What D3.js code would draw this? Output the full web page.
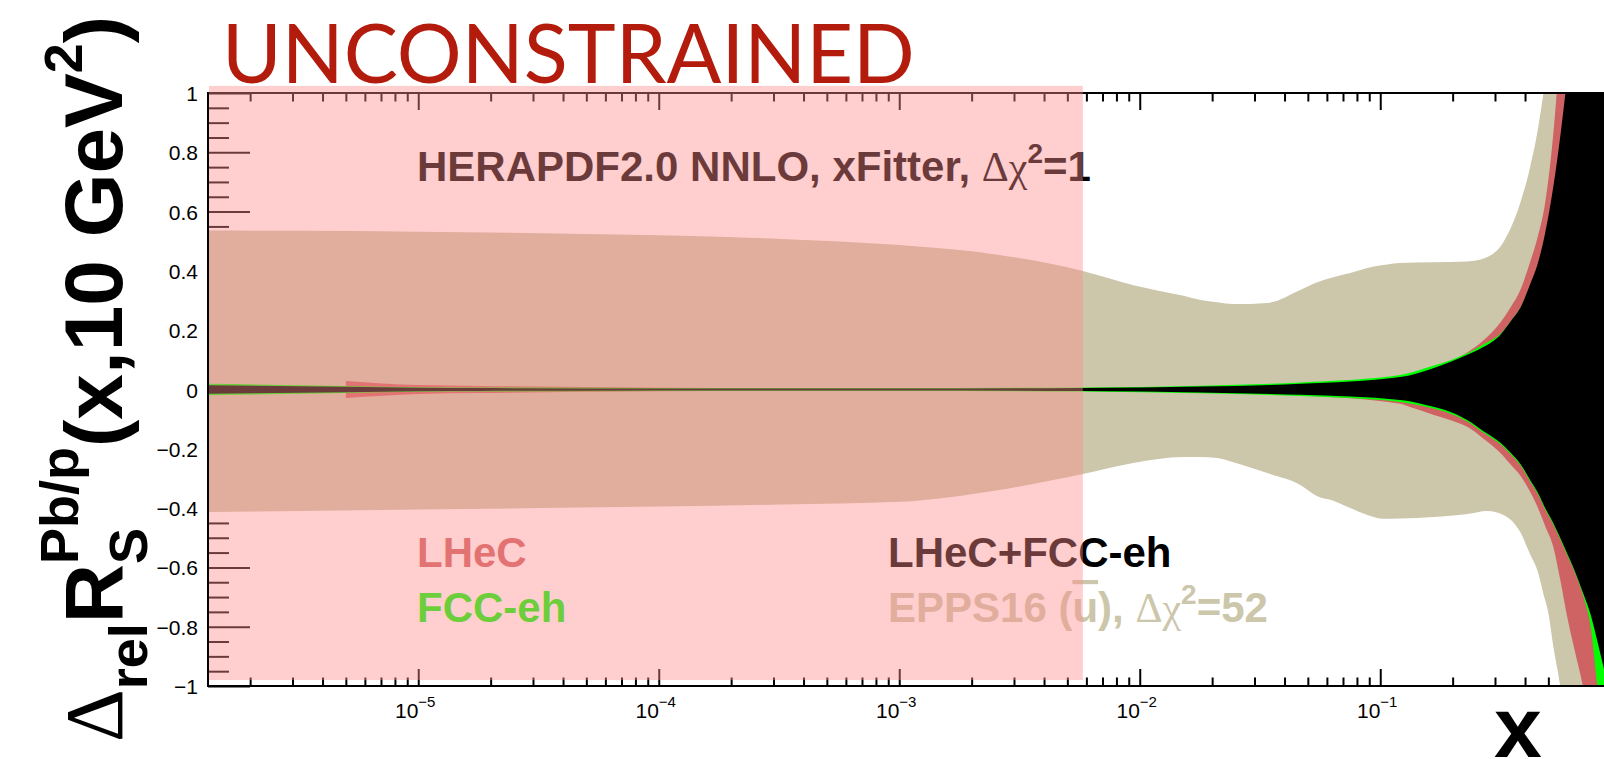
<!DOCTYPE html>
<html><head><meta charset="utf-8">
<script src="https://cdn.jsdelivr.net/npm/d3@7"></script>
<style>html,body{margin:0;padding:0;background:#fff;} svg{display:block}</style>
</head><body>
<svg id="c" width="1604" height="759"></svg>
<script>
// ---------------- DATA ----------------
// EPPS16 (ubar) band
const epX  = [1.336e-6, 3.2e-6, 1e-5, 3.2e-5, 1e-4, 3.2e-4, 1e-3, 2.6e-3, 5.8e-3, 9.4e-3, 0.0152, 0.0179, 0.021, 0.0245, 0.0339, 0.0465, 0.0547, 0.0638, 0.075, 0.0883, 0.103, 0.121, 0.166, 0.23, 0.279, 0.325, 0.382, 0.42, 0.454, 0.477, 0.5, 0.524, 0.56, 0.6, 0.7, 1.0];
const epUp = [0.536, 0.535, 0.532, 0.527, 0.520, 0.508, 0.487, 0.454, 0.400, 0.352, 0.316, 0.302, 0.294, 0.288, 0.292, 0.336, 0.362, 0.379, 0.393, 0.410, 0.420, 0.427, 0.429, 0.432, 0.447, 0.497, 0.629, 0.75, 0.885, 1.0, 1.12, 1.25, 1.45, 1.7, 2.2, 3.0];
const epLo = [-0.413, -0.410, -0.405, -0.400, -0.395, -0.388, -0.379, -0.339, -0.285, -0.248, -0.228, -0.228, -0.231, -0.245, -0.282, -0.322, -0.36, -0.375, -0.40, -0.423, -0.436, -0.435, -0.43, -0.42, -0.41, -0.423, -0.481, -0.556, -0.62, -0.69, -0.754, -0.865, -1.0, -1.2, -1.6, -2.5];

// common grid for the xFitter bands
const bandX = [1.336e-6, 5e-6, 1e-5, 1.8e-5, 1e-4, 1e-3, 5.8e-3, 0.0179, 0.0465, 0.121, 0.166, 0.195, 0.23, 0.268, 0.316, 0.35, 0.382, 0.42, 0.45, 0.485, 0.524, 0.56, 0.6, 0.635, 0.7, 0.75, 0.8, 0.85, 0.9, 1.0];
// LHeC+FCC-eh
const combUp = [0.014, 0.009, 0.006, 0.005, 0.003, 0.003, 0.005, 0.010, 0.019, 0.042, 0.072, 0.093, 0.117, 0.143, 0.185, 0.232, 0.275, 0.355, 0.42, 0.528, 0.683, 0.852, 1.06, 1.25, 1.6, 1.9, 2.2, 2.5, 2.8, 3.3];
const combLo = [-0.014, -0.009, -0.006, -0.005, -0.003, -0.003, -0.005, -0.010, -0.018, -0.035, -0.058, -0.075, -0.103, -0.14, -0.18, -0.215, -0.25, -0.305, -0.345, -0.40, -0.45, -0.50, -0.555, -0.60, -0.69, -0.76, -0.85, -0.94, -1.03, -1.2];
// FCC-eh
const fccUp = [0.019, 0.012, 0.008, 0.007, 0.005, 0.005, 0.007, 0.013, 0.024, 0.049, 0.080, 0.098, 0.122, 0.152, 0.188, 0.232, 0.275, 0.35, 0.41, 0.51, 0.66, 0.82, 1.0, 1.2, 1.5, 1.8, 2.1, 2.4, 2.7, 3.2];
const fccLo = [-0.019, -0.012, -0.008, -0.007, -0.005, -0.005, -0.007, -0.013, -0.022, -0.042, -0.064, -0.081, -0.108, -0.145, -0.185, -0.22, -0.255, -0.31, -0.35, -0.405, -0.455, -0.505, -0.56, -0.605, -0.70, -0.80, -1.0, -1.15, -1.3, -1.5];
// LHeC (starts at x = 5e-6)
const lhecX  = [5e-6, 1e-5, 1.8e-5, 1e-4, 1e-3, 5.8e-3, 0.0179, 0.0465, 0.121, 0.133, 0.166, 0.195, 0.23, 0.268, 0.316, 0.35, 0.382, 0.42, 0.45, 0.485, 0.524, 0.56, 0.6, 0.635, 0.7, 0.75, 0.8, 1.0];
const lhecUp = [0.029, 0.015, 0.012, 0.006, 0.004, 0.005, 0.010, 0.020, 0.045, 0.05, 0.075, 0.095, 0.125, 0.165, 0.226, 0.28, 0.335, 0.43, 0.51, 0.63, 0.86, 1.15, 1.45, 1.7, 2.1, 2.5, 2.8, 3.8];
const lhecLo = [-0.029, -0.015, -0.012, -0.006, -0.004, -0.005, -0.010, -0.020, -0.048, -0.059, -0.085, -0.103, -0.126, -0.165, -0.214, -0.255, -0.29, -0.345, -0.395, -0.46, -0.53, -0.64, -0.77, -0.86, -1.01, -1.15, -1.25, -1.7];

const xDomain = [1.336e-6, 1];
const yDomain = [-1, 1];
const unconstrainedX = [1.336e-6, 5.8e-3];
const unconstrainedY = [-0.98, 1.024];

const yMajorTicks = [1, 0.8, 0.6, 0.4, 0.2, 0, -0.2, -0.4, -0.6, -0.8, -1];
const yTickLabels = ["1", "0.8", "0.6", "0.4", "0.2", "0", "\u22120.2", "\u22120.4", "\u22120.6", "\u22120.8", "\u22121"];
const yMinorTicks = d3.range(-20, 21).map(i => i * 0.05).filter(v => Math.abs(Math.round(v * 5) - v * 5) > 1e-6);
const xTickExponents = [-5, -4, -3, -2, -1];
const xTickExpLabels = ["\u22125", "\u22124", "\u22123", "\u22122", "\u22121"];
const xMajorTicks = [1e-5, 1e-4, 1e-3, 1e-2, 1e-1, 1];
const xMinorTicks = [];
[-6, -5, -4, -3, -2, -1].forEach(e => { for (let k = 2; k <= 9; k++) { const v = k * Math.pow(10, e); if (v > xDomain[0]) xMinorTicks.push(v); } });

const legendEntries = [
  {label: "LHeC", color: "#cf6262"},
  {label: "FCC-eh", color: "#00ff00"},
  {label: "LHeC+FCC-eh", color: "#000000"},
  {label: "EPPS16", color: "#ccc6aa"}
];

// ---------------- DRAW ----------------
const svg = d3.select("#c");
const SANS = "'Liberation Sans', Arial, Helvetica, sans-serif";
const SERIF = "'Liberation Serif', 'Times New Roman', serif";

const decade = 240.5;
const x = d3.scaleLog().domain(xDomain).range([208, 208 + decade * Math.log10(xDomain[1] / xDomain[0])]);
const y = d3.scaleLinear().domain(yDomain).range([686, 93]);
const [px0, px1] = x.range();

svg.append("rect").attr("width", 1604).attr("height", 759).attr("fill", "#fff");

// ticks
function tickAxis(axis, tr, sw) {
  const g = svg.append("g").attr("transform", tr).call(axis);
  g.select(".domain").remove();
  g.selectAll("line").attr("stroke", "#000").attr("stroke-width", sw);
  g.selectAll("text").remove();
  return g;
}
tickAxis(d3.axisRight(y).tickValues(yMajorTicks).tickSize(42).tickFormat(""), `translate(${px0},0)`, 2);
tickAxis(d3.axisRight(y).tickValues(yMinorTicks).tickSize(21).tickFormat(""), `translate(${px0},0)`, 2);
tickAxis(d3.axisBottom(x).tickValues(xMajorTicks).tickSize(17).tickFormat(""), `translate(0,${y(1)})`, 2);
tickAxis(d3.axisBottom(x).tickValues(xMinorTicks).tickSize(8.5).tickFormat(""), `translate(0,${y(1)})`, 2);
tickAxis(d3.axisTop(x).tickValues(xMajorTicks).tickSize(17).tickFormat(""), `translate(0,${y(-1)})`, 2);
tickAxis(d3.axisTop(x).tickValues(xMinorTicks).tickSize(8.5).tickFormat(""), `translate(0,${y(-1)})`, 2);

// clip
svg.append("clipPath").attr("id", "plotclip").append("rect")
  .attr("x", px0).attr("y", y(1)).attr("width", px1 - px0).attr("height", y(-1) - y(1));
const plot = svg.append("g").attr("clip-path", "url(#plotclip)");

const area = d3.area().x(d => x(d[0])).y0(d => y(d[1])).y1(d => y(d[2])).curve(d3.curveMonotoneX);
function band(xs, lo, hi, color) {
  plot.append("path").attr("d", area(xs.map((v, i) => [v, lo[i], hi[i]]))).attr("fill", color);
}
band(epX, epLo, epUp, legendEntries[3].color);
band(lhecX, lhecLo, lhecUp, legendEntries[0].color);
band(bandX, fccLo, fccUp, legendEntries[1].color);
band(bandX, combLo, combUp, legendEntries[2].color);

// frame
svg.append("line").attr("x1", px0).attr("x2", px0).attr("y1", y(1) - 1).attr("y2", y(-1) + 1).attr("stroke", "#000").attr("stroke-width", 2);
svg.append("line").attr("x1", px0 - 1).attr("x2", 1604).attr("y1", y(-1)).attr("y2", y(-1)).attr("stroke", "#000").attr("stroke-width", 2);
svg.append("line").attr("x1", px0 - 1).attr("x2", 1604).attr("y1", y(1)).attr("y2", y(1)).attr("stroke", "#000").attr("stroke-width", 2);

// legend texts (under the overlay)
const LFS = 42;
const t1 = svg.append("text").attr("x", 417).attr("y", 181).attr("font-family", SANS).attr("font-weight", "bold").attr("font-size", LFS).attr("fill", "#000");
t1.append("tspan").text("HERAPDF2.0 NNLO, xFitter, ");
t1.append("tspan").attr("font-family", SERIF).attr("font-weight", "normal").text("\u0394\u03c7");
t1.append("tspan").attr("font-size", 28).attr("dy", -18).text("2");
t1.append("tspan").attr("dy", 18).text("=1");

svg.append("text").attr("x", 417).attr("y", 567).attr("font-family", SANS).attr("font-weight", "bold").attr("font-size", LFS).attr("fill", legendEntries[0].color).text(legendEntries[0].label);
svg.append("text").attr("x", 417).attr("y", 622).attr("font-family", SANS).attr("font-weight", "bold").attr("font-size", LFS).attr("fill", legendEntries[1].color).text(legendEntries[1].label);
svg.append("text").attr("x", 888).attr("y", 567).attr("font-family", SANS).attr("font-weight", "bold").attr("font-size", LFS).attr("fill", legendEntries[2].color).text(legendEntries[2].label);
const t4 = svg.append("text").attr("x", 888).attr("y", 622).attr("font-family", SANS).attr("font-weight", "bold").attr("font-size", LFS).attr("fill", legendEntries[3].color);
t4.append("tspan").text(legendEntries[3].label + " (");
t4.append("tspan").style("text-decoration", "overline").text("u");
t4.append("tspan").text("), ");
t4.append("tspan").attr("font-family", SERIF).attr("font-weight", "normal").text("\u0394\u03c7");
t4.append("tspan").attr("font-size", 28).attr("dy", -18).text("2");
t4.append("tspan").attr("dy", 18).text("=52");

// unconstrained overlay
svg.append("rect")
  .attr("x", x(unconstrainedX[0]) + 1).attr("y", y(unconstrainedY[1]))
  .attr("width", x(unconstrainedX[1]) - x(unconstrainedX[0]) - 1)
  .attr("height", y(unconstrainedY[0]) - y(unconstrainedY[1]))
  .attr("fill", "#ff8a8a").attr("fill-opacity", 0.42);

// y tick labels
yMajorTicks.forEach((v, i) => {
  svg.append("text").attr("x", 198).attr("y", y(v) + 8).attr("text-anchor", "end")
    .attr("font-family", SANS).attr("font-size", 21).attr("fill", "#000").text(yTickLabels[i]);
});
// x tick labels
xTickExponents.forEach((e, i) => {
  const t = svg.append("text").attr("x", x(Math.pow(10, e)) - 3).attr("y", 718).attr("text-anchor", "middle")
    .attr("font-family", SANS).attr("font-size", 21).attr("fill", "#000");
  t.append("tspan").text("10");
  t.append("tspan").attr("font-size", 15).attr("dy", -11).text(xTickExpLabels[i]);
});

// axis titles
const yt = svg.append("text").attr("transform", "translate(122,742) rotate(-90)")
  .attr("font-family", SANS).attr("font-weight", "bold").attr("font-size", 82).attr("fill", "#000");
yt.append("tspan").attr("font-family", SERIF).attr("font-weight", "normal").text("\u0394");
yt.append("tspan").attr("font-size", 54).attr("dy", 25).text("rel");
yt.append("tspan").attr("dy", -25).text("R");
yt.append("tspan").attr("font-size", 54).attr("dy", 25).text("S");
yt.append("tspan").attr("font-size", 54).attr("dx", -36).attr("dy", -69).text("Pb/p");
yt.append("tspan").attr("dy", 44).text("(x,10 GeV");
yt.append("tspan").attr("font-size", 54).attr("dy", -40).text("2");
yt.append("tspan").attr("dy", 40).text(")");

svg.append("text").attr("x", 1494).attr("y", 757).attr("font-family", SANS).attr("font-weight", "bold")
  .attr("font-size", 86).attr("fill", "#000").text("x");

// header
const head = svg.append("text").attr("x", 222).attr("y", 83).attr("font-family", "Lato, 'Open Sans', sans-serif")
  .attr("font-size", 81).attr("fill", "#b31b0c").text("UNCONSTRAINED");
const hw = head.node().getBBox().width;
const k = 693 / hw;
head.attr("transform", `translate(222,0) scale(${k},1) translate(-222,0)`);
</script>
</body></html>
